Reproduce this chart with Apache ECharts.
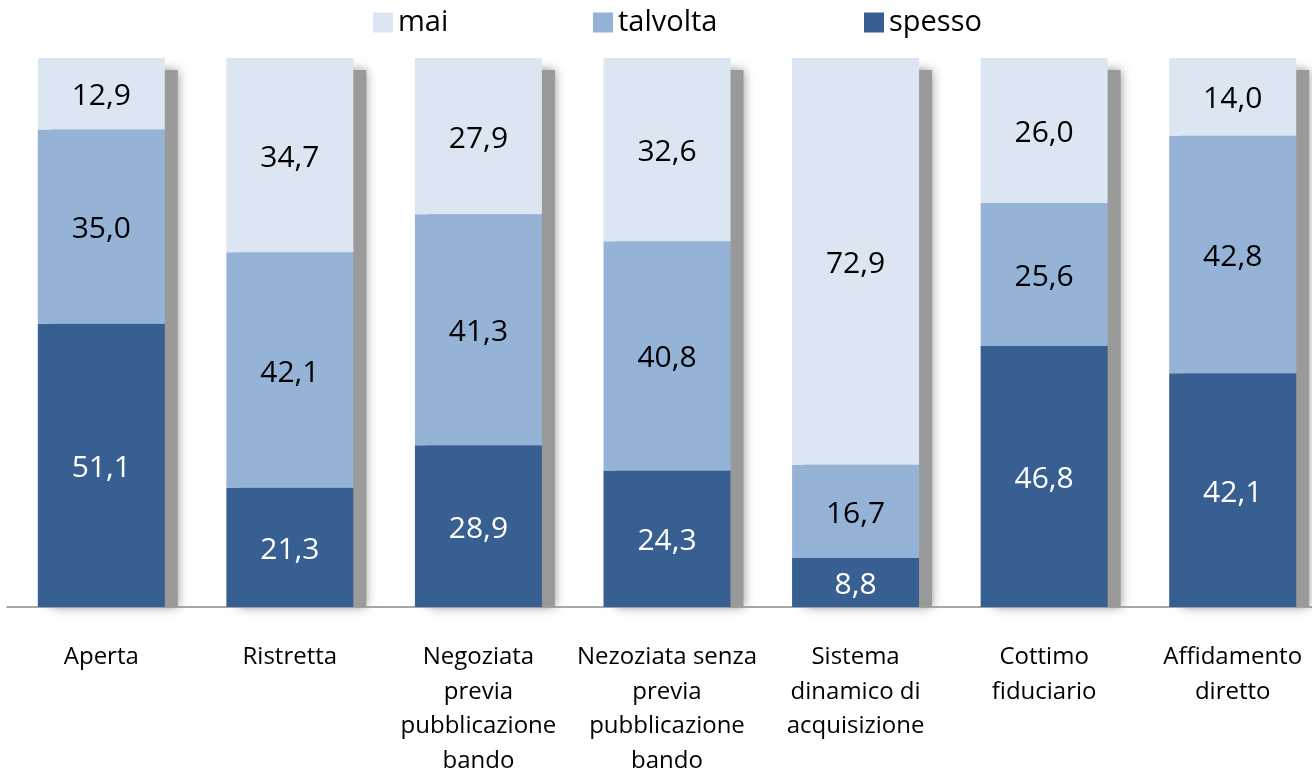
<!DOCTYPE html>
<html>
<head>
<meta charset="utf-8">
<script src="https://cdn.jsdelivr.net/npm/echarts@6/dist/echarts.min.js"></script>
<style>html,body{margin:0;padding:0;background:#fff;}#c{width:1312px;height:773px;}</style>
</head>
<body>
<div id="c"></div>
<script>
const categories = ['Aperta', 'Ristretta', 'Negoziata\nprevia\npubblicazione\nbando', 'Nezoziata senza\nprevia\npubblicazione\nbando', 'Sistema\ndinamico di\nacquisizione', 'Cottimo\nfiduciario', 'Affidamento\ndiretto'];
const spesso = [51.1, 21.3, 28.9, 24.3, 8.8, 46.8, 42.1];
const talvolta = [35.0, 42.1, 41.3, 40.8, 16.7, 25.6, 42.8];
const mai = [12.9, 34.7, 27.9, 32.6, 72.9, 26.0, 14.0];

const totals = spesso.map((v, i) => v + talvolta[i] + mai[i]);
const share = arr => arr.map((v, i) => ({ value: v / totals[i] * 100, raw: v }));
const fmt = p => p.data.raw.toFixed(1).replace('.', ',');
const FONT = 'Open Sans';

const chart = echarts.init(document.getElementById('c'));
function mkSeries(name, arr, color, labelColor) {
  return {
    name, type: 'bar', stack: 'all', xAxisIndex: 0, yAxisIndex: 0,
    barWidth: 127, data: share(arr), z: 3,
    itemStyle: { color },
    label: { show: true, position: 'inside', offset: [0, 3], formatter: fmt, color: labelColor, fontSize: 30, fontFamily: FONT },
    emphasis: { disabled: true }
  };
}
const legendBase = {
  top: 3, itemWidth: 20, itemHeight: 20, icon: 'rect',
  textStyle: { fontSize: 29, fontFamily: FONT, color: '#000', padding: [0, 0, 0, 0] },
  selectedMode: false
};
chart.setOption({
  animation: false,
  legend: [
    Object.assign({}, legendBase, { left: 368, data: ['mai'] }),
    Object.assign({}, legendBase, { left: 588, data: ['talvolta'] }),
    Object.assign({}, legendBase, { left: 859, data: ['spesso'] })
  ],
  grid: [
    { left: 7, right: -15, top: 58, bottom: 166, outerBoundsMode: 'none', containLabel: false },
    { left: 20, right: -28, top: 70, bottom: 166, outerBoundsMode: 'none', containLabel: false }
  ],
  xAxis: [
    {
      type: 'category', data: categories, gridIndex: 0,
      axisLine: { lineStyle: { color: '#8a8a8a', width: 1.5 } },
      axisTick: { show: false },
      axisLabel: { interval: 0, margin: 33, fontSize: 24, lineHeight: 34.5, color: '#000', fontFamily: FONT }
    },
    { type: 'category', data: categories, gridIndex: 1, show: false }
  ],
  yAxis: [
    { type: 'value', min: 0, max: 100, gridIndex: 0, show: false },
    { type: 'value', min: 0, max: 100, gridIndex: 1, show: false }
  ],
  series: [
    {
      name: 'shadow', type: 'bar', xAxisIndex: 1, yAxisIndex: 1, barWidth: 127, z: 1,
      data: categories.map(() => 100), silent: true,
      itemStyle: { color: '#9a9a9a', shadowBlur: 10, shadowColor: 'rgba(150,150,150,1)' },
      emphasis: { disabled: true }
    },
    mkSeries('spesso', spesso, '#375F92', '#fff'),
    mkSeries('talvolta', talvolta, '#95B3D7', '#000'),
    mkSeries('mai', mai, '#DCE6F2', '#000')
  ]
});
</script>
</body>
</html>
